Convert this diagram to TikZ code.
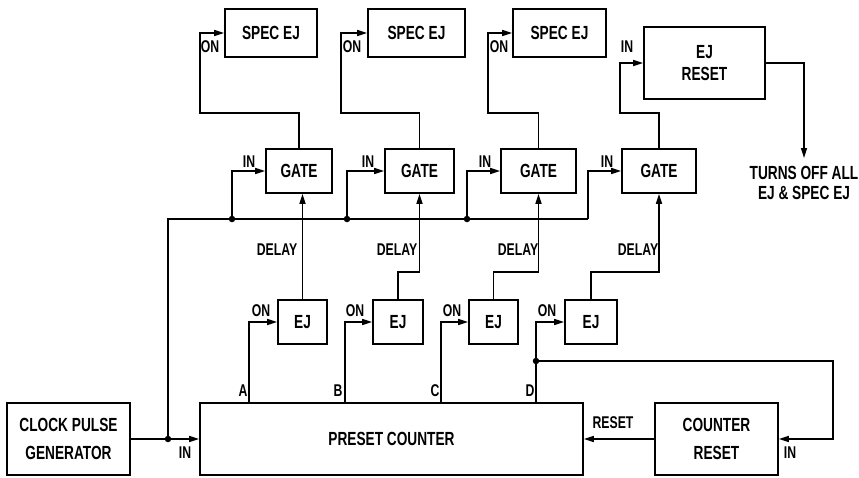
\documentclass[tikz,border=0pt]{standalone}
\usepackage{fontspec}
\setmainfont{Liberation Sans}[FakeStretch=0.72]
\usetikzlibrary{arrows.meta}
\newcommand\tzmain{\fontsize{19}{28}\selectfont\bfseries}
\newcommand\tzlbl{\fontsize{17}{20}\selectfont\bfseries}
\begin{document}
\begin{tikzpicture}[x=1pt,y=-1pt,
  box/.style={draw, line width=1.7pt, inner sep=0pt, align=center, font=\tzmain},
  lbl/.style={font=\tzlbl, inner sep=0pt},
  wire/.style={line width=1.4pt},
  arr/.style={-{Triangle[length=10pt,width=6pt]}},
  dot/.style={circle, fill, inner sep=0pt, minimum size=6.5pt}]
\useasboundingbox (0,0) rectangle (859,477);
% main boxes
\node[box, minimum width=123pt, minimum height=72pt] (clock) at (68.5,439) {CLOCK PULSE\\GENERATOR};
\node[box, minimum width=383pt, minimum height=72pt] (counter) at (391.5,439) {PRESET COUNTER};
\node[box, minimum width=123pt, minimum height=72pt] (creset) at (716.5,439) {COUNTER\\RESET};
% EJ boxes
\node[box, minimum width=49pt, minimum height=44pt] (ej1) at (302.5,322) {EJ};
\node[box, minimum width=50pt, minimum height=44pt] (ej2) at (398,322) {EJ};
\node[box, minimum width=49pt, minimum height=44pt] (ej3) at (493.5,322) {EJ};
\node[box, minimum width=52pt, minimum height=44pt] (ej4) at (591,322) {EJ};
% gates
\node[box, minimum width=66pt, minimum height=44pt] (gate1) at (299,171) {GATE};
\node[box, minimum width=69pt, minimum height=44pt] (gate2) at (419.5,171) {GATE};
\node[box, minimum width=75pt, minimum height=44pt] (gate3) at (538.5,171) {GATE};
\node[box, minimum width=74pt, minimum height=44pt] (gate4) at (659,171) {GATE};
% spec ej
\node[box, minimum width=92pt, minimum height=48pt] (spec1) at (271,33) {SPEC EJ};
\node[box, minimum width=97pt, minimum height=48pt] (spec2) at (416.5,33) {SPEC EJ};
\node[box, minimum width=93pt, minimum height=48pt] (spec3) at (559.5,33) {SPEC EJ};
\node[box, minimum width=121pt, minimum height=72pt, font=\fontsize{19}{22}\selectfont\bfseries] (ejr) at (704.5,63) {EJ\\RESET};
\node[font=\fontsize{19}{20}\selectfont\bfseries, inner sep=0pt, align=center] (note) at (804,183) {TURNS OFF ALL\\EJ \& SPEC EJ};
% clock -> counter and bus
\node[dot] (d0) at (168,439) {};
\draw[wire,arr] (clock.east) -- (counter.west);
\coordinate (b0) at (168,219);
\coordinate (b4) at (588,219);
\node[dot] (g1d) at (232,219) {};
\node[dot] (g2d) at (347,219) {};
\node[dot] (g3d) at (467,219) {};
\draw[wire] (d0.center) -- (b0) -- (b4);
\draw[wire,arr] (g1d.center) |- (gate1.west);
\draw[wire,arr] (g2d.center) |- (gate2.west);
\draw[wire,arr] (g3d.center) |- (gate3.west);
\draw[wire,arr] (b4) |- (gate4.west);
% counter outputs
\coordinate (oA) at (249,403);
\coordinate (oB) at (345,403);
\coordinate (oC) at (441,403);
\coordinate (oD) at (536,403);
\draw[wire,arr] (oA) |- (ej1.west);
\draw[wire,arr] (oB) |- (ej2.west);
\draw[wire,arr] (oC) |- (ej3.west);
\draw[wire,arr] (oD) |- (ej4.west);
\node[dot] (dd) at (536,361) {};
\coordinate (rc) at (833,361);
\draw[wire,arr] (dd.center) -- (rc) |- (creset.east);
\draw[wire,arr] (creset.west) -- (counter.east);
% delays
\coordinate (dl) at (0,272);
\draw[wire,arr] (ej1.north) -- (ej1.north |- gate1.south);
\draw[wire,arr] (ej2.north) -- (ej2.north |- dl) -| (gate2.south);
\draw[wire,arr] (ej3.north) -- (ej3.north |- dl) -| (gate3.south);
\draw[wire,arr] (ej4.north) -- (ej4.north |- dl) -| (gate4.south);
% gate outputs
\coordinate (u1) at (200,113);
\coordinate (u2) at (341,113);
\coordinate (u3) at (488,113);
\coordinate (u4) at (620,113);
\draw[wire,arr] (gate1.north) |- (u1) |- (spec1.west);
\draw[wire,arr] (gate2.north) |- (u2) |- (spec2.west);
\draw[wire,arr] (gate3.north) |- (u3) |- (spec3.west);
\draw[wire,arr] (gate4.north) |- (u4) |- (ejr.west);
\coordinate (tr) at (804,158);
\draw[wire,arr] (ejr.east) -| (tr);
% labels
\node[lbl] (lin) at (185,453) {IN};
\node[lbl] (la) at (243,391) {A};
\node[lbl] (lb) at (338,391) {B};
\node[lbl] (lc) at (435,391) {C};
\node[lbl] (ld) at (530,391) {D};
\node[lbl] (lreset) at (613,423) {RESET};
\node[lbl] (lcin) at (790,453) {IN};
\node[lbl] (on1) at (261,311) {ON};
\node[lbl] (on2) at (355,311) {ON};
\node[lbl] (on3) at (452,311) {ON};
\node[lbl] (on4) at (547,311) {ON};
\node[lbl] (dl1) at (277,250) {DELAY};
\node[lbl] (dl2) at (397,250) {DELAY};
\node[lbl] (dl3) at (518,250) {DELAY};
\node[lbl] (dl4) at (638,250) {DELAY};
\node[lbl] (in1) at (249,162) {IN};
\node[lbl] (in2) at (368,162) {IN};
\node[lbl] (in3) at (485,162) {IN};
\node[lbl] (in4) at (607,162) {IN};
\node[lbl] (son1) at (210,47) {ON};
\node[lbl] (son2) at (352,47) {ON};
\node[lbl] (son3) at (499,47) {ON};
\node[lbl] (rin) at (627,47) {IN};
\end{tikzpicture}
\end{document}
